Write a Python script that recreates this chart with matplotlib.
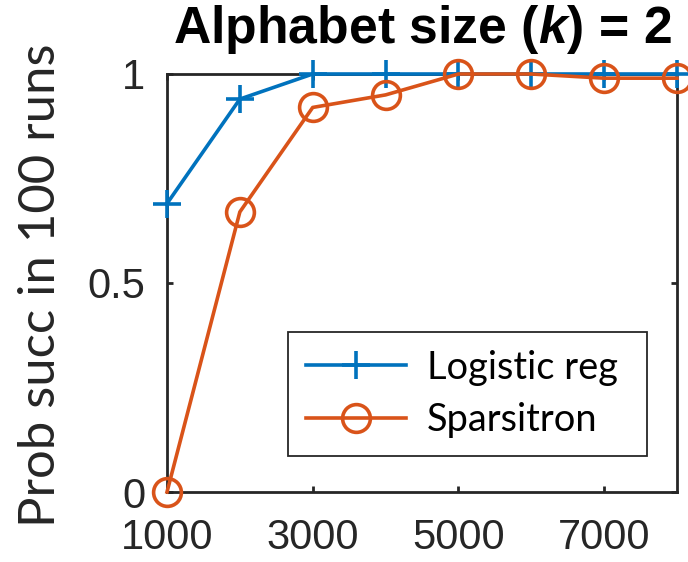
import matplotlib
matplotlib.use('Agg')
import matplotlib.pyplot as plt

# ---- data ----
sample_sizes = [1000, 2000, 3000, 4000, 5000, 6000, 7000, 8000]
logistic_reg = [0.69, 0.94, 1.0, 1.0, 1.0, 1.0, 1.0, 1.0]
sparsitron = [0.0, 0.67, 0.92, 0.95, 1.0, 1.0, 0.99, 0.99]
xticks = [1000, 3000, 5000, 7000]
xtick_labels = ['1000', '3000', '5000', '7000']
yticks = [0, 0.5, 1]
ytick_labels = ['0', '0.5', '1']
series_names = ['Logistic reg', 'Sparsitron']
title_text = r'Alphabet size ($\mathit{k}$) = 2'
ylabel_text = 'Prob succ in 100 runs'

W, H, DPI = 688, 562, 100
plt.rcParams['mathtext.fontset'] = 'custom'
plt.rcParams['mathtext.rm'] = 'Liberation Sans:bold'
plt.rcParams['mathtext.it'] = 'Liberation Sans:bold:italic'
plt.rcParams['mathtext.bf'] = 'Liberation Sans:bold'

fig = plt.figure(figsize=(W / DPI, H / DPI), dpi=DPI)
renderer = fig.canvas.get_renderer()


def fit(text, target, base=20, **kw):
    t = fig.text(0, 0, text, fontsize=base, **kw)
    w = t.get_window_extent(renderer).width
    t.remove()
    return base * target / w


GRAY = '#262626'
BLUE = '#0072BD'
ORANGE = '#D95319'

ax = fig.add_axes([167 / W, (H - 492) / H, 510 / W, 418 / H])
ax.plot(sample_sizes, logistic_reg, color=BLUE, lw=2.6, marker='+', ms=20,
        mew=2.6, clip_on=False, label=series_names[0], zorder=3)
ax.plot(sample_sizes, sparsitron, color=ORANGE, lw=2.6, marker='o', ms=20,
        mew=2.6, mfc='none', clip_on=False, label=series_names[1], zorder=4)

ax.set_xlim(1000, 8000)
ax.set_ylim(0, 1)
ax.set_xticks(xticks)
ax.set_xticklabels(xtick_labels)
ax.set_yticks(yticks)
ax.set_yticklabels(ytick_labels)
for s in ax.spines.values():
    s.set_linewidth(2.0)
    s.set_color(GRAY)
ax.tick_params(axis='both', direction='in', length=4.5, width=2.0, color=GRAY,
               labelcolor=GRAY, labelsize=30, top=True, right=True)
ax.tick_params(axis='x', pad=19)
ax.tick_params(axis='y', pad=15.5)
for lab in ax.get_xticklabels() + ax.get_yticklabels():
    lab.set_family('Liberation Sans')

# title
ts = fit(title_text, 500, family='Liberation Sans', weight='bold')
fig.text(422 / W, (H - 43) / H, title_text, ha='center', va='baseline',
         fontsize=ts, family='Liberation Sans', weight='bold', color='black')

# ylabel
ys = fit(ylabel_text, 486, family='Lato')
fig.text(55 / W, (H - 285) / H, ylabel_text, rotation=90, rotation_mode='anchor',
         ha='center', va='baseline', fontsize=ys, family='Lato', color=GRAY)

# legend
ls_ = fit(series_names[0], 191, family='Lato')
em = ls_ * DPI / 72.0
leg = ax.legend(loc='upper left',
                bbox_to_anchor=(288 / W, (H - 455) / H, 359 / W, 123 / H),
                bbox_transform=fig.transFigure, mode='expand', borderaxespad=0,
                prop={'family': 'Lato', 'size': ls_}, fancybox=False,
                framealpha=1, edgecolor=GRAY, handlelength=100 / em,
                handletextpad=21.5 / em, borderpad=17.5 / em, labelspacing=17 / em)
leg.get_frame().set_linewidth(1.3)

fig.savefig('out.png', dpi=DPI)
